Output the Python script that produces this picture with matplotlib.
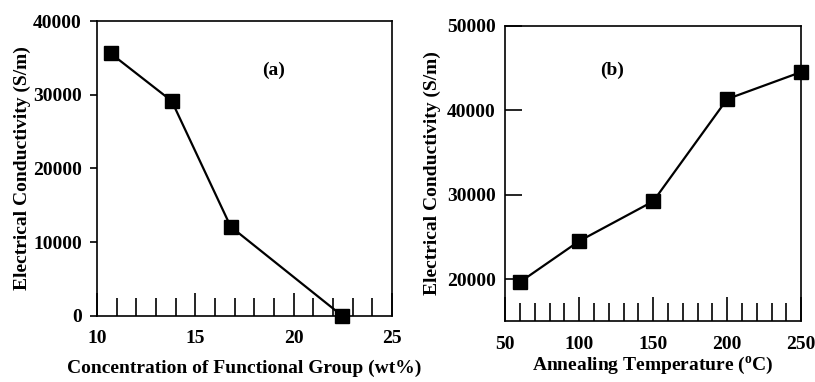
import matplotlib
matplotlib.use("Agg")
import matplotlib.pyplot as plt
from matplotlib.ticker import MultipleLocator

# panel (a): conductivity vs functional group concentration
conc = [10.7, 13.8, 16.8, 22.45]
cond_a = [35600, 29150, 12100, 50]
# panel (b): conductivity vs annealing temperature
temp = [60, 100, 150, 200, 250]
cond_b = [19700, 24550, 29250, 41350, 44550]

plt.rcParams['font.family'] = ['Liberation Serif', 'DejaVu Serif']
plt.rcParams['font.weight'] = 'bold'
plt.rcParams['axes.linewidth'] = 1.2
plt.rcParams['mathtext.fontset'] = 'custom'
plt.rcParams['mathtext.rm'] = 'Liberation Serif:bold'
plt.rcParams['mathtext.it'] = 'Liberation Serif:bold'
plt.rcParams['mathtext.bf'] = 'Liberation Serif:bold'

FS = 14

fig = plt.figure(figsize=(8.15, 3.82), dpi=100)

# --- (a)
ax1 = fig.add_axes([0.119, 0.173, 0.362, 0.772])
ax1.plot(conc, cond_a, color='black', lw=1.6, marker='s', ms=9.5, clip_on=False, zorder=3)
ax1.set_xlim(10, 25)
ax1.set_ylim(0, 40000)
ax1.xaxis.set_major_locator(MultipleLocator(5))
ax1.xaxis.set_minor_locator(MultipleLocator(1))
ax1.yaxis.set_major_locator(MultipleLocator(10000))
ax1.tick_params(axis='x', which='major', direction='in', length=16.5, width=1.2, pad=10, labelsize=FS)
ax1.tick_params(axis='x', which='minor', direction='in', length=13, width=1.2)
ax1.tick_params(axis='y', which='major', direction='out', length=5, width=1.2, pad=6, labelsize=FS)
ax1.set_xlabel('Concentration of Functional Group (wt%)', fontsize=FS, fontweight='bold', labelpad=9)
ax1.set_ylabel('Electrical Conductivity (S/m)', fontsize=FS, fontweight='bold', labelpad=1)
ax1.text(0.597, 0.834, '(a)', transform=ax1.transAxes, ha='center', va='center',
         fontsize=FS, fontweight='bold')

# --- (b)
ax2 = fig.add_axes([0.620, 0.160, 0.363, 0.772])
ax2.plot(temp, cond_b, color='black', lw=1.6, marker='s', ms=9.5, clip_on=False, zorder=3)
ax2.set_xlim(50, 250)
ax2.set_ylim(15100, 50000)
ax2.xaxis.set_major_locator(MultipleLocator(50))
ax2.xaxis.set_minor_locator(MultipleLocator(10))
ax2.set_yticks([20000, 30000, 40000, 50000])
ax2.tick_params(axis='x', which='major', direction='in', length=17, width=1.2, pad=11, labelsize=FS)
ax2.tick_params(axis='x', which='minor', direction='in', length=13, width=1.2)
ax2.tick_params(axis='y', which='major', direction='in', length=12, width=1.2, pad=7, labelsize=FS)
ax2.set_xlabel('Annealing Temperature ($^{\\mathrm{o}}$C)', fontsize=FS, fontweight='bold', labelpad=1)
ax2.set_ylabel('Electrical Conductivity (S/m)', fontsize=FS, fontweight='bold', labelpad=4)
ax2.text(0.361, 0.851, '(b)', transform=ax2.transAxes, ha='center', va='center',
         fontsize=FS, fontweight='bold')

for ax in (ax1, ax2):
    for lab in ax.get_xticklabels() + ax.get_yticklabels():
        lab.set_fontweight('bold')

fig.savefig('out.png', dpi=100)
